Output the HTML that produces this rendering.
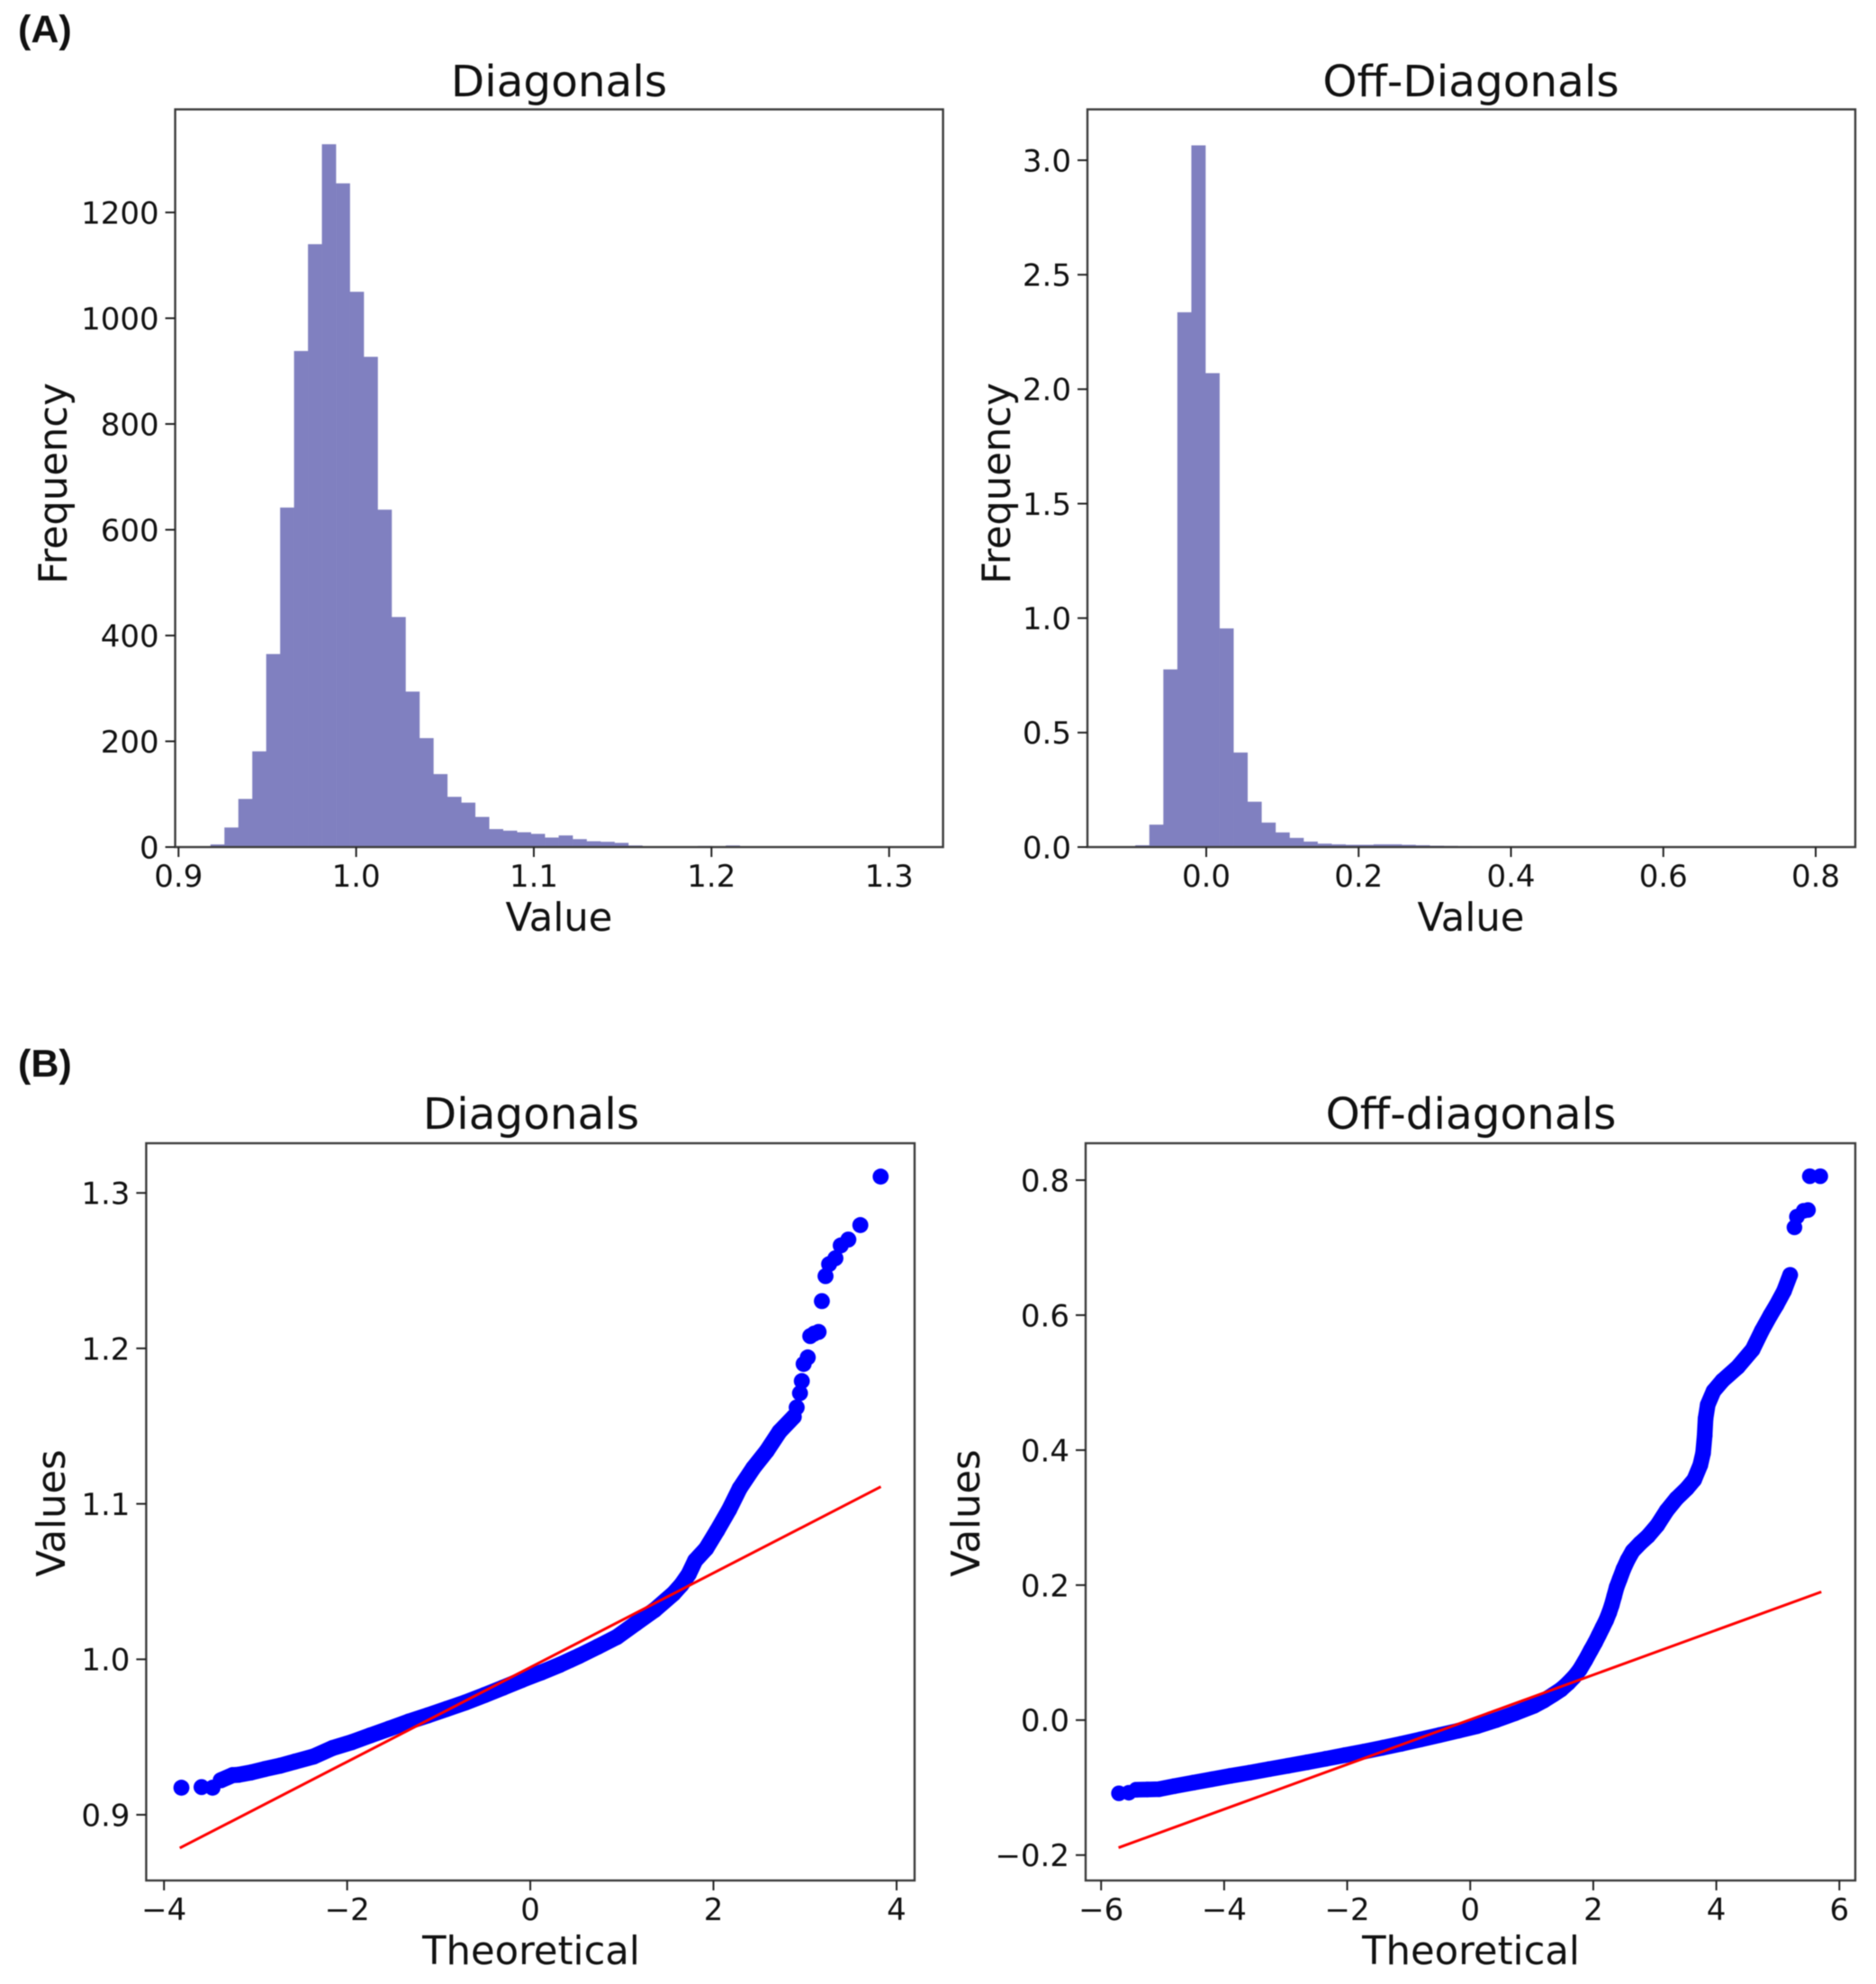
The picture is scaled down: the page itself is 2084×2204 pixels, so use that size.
<!DOCTYPE html>
<html lang="en">
<head>
<meta charset="utf-8">
<title>Diagonal and off-diagonal distributions</title>
<style>
html,body{margin:0;padding:0;background:#fff;width:2084px;height:2204px;overflow:hidden}
svg{display:block;filter:blur(0.6px)}
text{font-family:"DejaVu Sans","Liberation Sans",sans-serif;fill:#111}
.panel-tag{font-family:"Liberation Sans",sans-serif;font-weight:700;font-size:43px}
.title{font-size:48.5px;text-anchor:middle}
.axis-label{font-size:43.3px;text-anchor:middle}
</style>
</head>
<body>
<svg id="figure" xmlns="http://www.w3.org/2000/svg" width="2084" height="2204" viewBox="0 0 2084 2204">
  <rect x="0" y="0" width="2084" height="2204" fill="#fff"/>

  <text class="panel-tag" x="20" y="47">(A)</text>
  <text class="panel-tag" x="20" y="1196">(B)</text>

  <g id="hist-diag"></g>
  <g id="hist-off"></g>
  <g id="qq-diag"></g>
  <g id="qq-off"></g>

  <text class="title" x="621" y="107">Diagonals</text>
  <text class="axis-label" x="621" y="1034">Value</text>
  <text class="axis-label" transform="translate(74 537) rotate(-90)">Frequency</text>

  <text class="title" x="1634" y="107">Off-Diagonals</text>
  <text class="axis-label" x="1634" y="1034">Value</text>
  <text class="axis-label" transform="translate(1122 537) rotate(-90)">Frequency</text>

  <text class="title" x="590" y="1254">Diagonals</text>
  <text class="axis-label" x="590" y="2182">Theoretical</text>
  <text class="axis-label" transform="translate(72 1681) rotate(-90)">Values</text>

  <text class="title" x="1634" y="1254">Off-diagonals</text>
  <text class="axis-label" x="1634" y="2182">Theoretical</text>
  <text class="axis-label" transform="translate(1088 1681) rotate(-90)">Values</text>
</svg>

<script>
// ---------- Histogram data ----------
const diagBinStart = 0.918;
const diagBinWidth = 0.00784;
const diagCounts = [5,37,91,181,365,642,938,1140,1329,1255,1050,927,638,435,294,206,138,95,84,57,34,31,28,25,18,22,15,11,10,8,3,1,1,0,1,2,0,3,0,0,0,0,0,0,1,0,0,0,0,1];
const diagXTicks = [0.9,1.0,1.1,1.2,1.3];
const diagXLabels = ["0.9","1.0","1.1","1.2","1.3"];
const diagYTicks = [0,200,400,600,800,1000,1200];
const diagYLabels = ["0","200","400","600","800","1000","1200"];

const offBinStart = -0.11155;
const offBinWidth = 0.018399;
const offCounts = [0.002,0.008,0.098,0.776,2.336,3.065,2.07,0.955,0.413,0.198,0.107,0.064,0.04,0.024,0.015,0.012,0.01,0.01,0.012,0.012,0.01,0.008,0.006,0.005,0.004,0.002,0.001,0.001,0,0,0,0,0,0,0,0,0,0,0,0,0,0,0,0,0,0,0,0,0,0.001];
const offXTicks = [0,0.2,0.4,0.6,0.8];
const offXLabels = ["0.0","0.2","0.4","0.6","0.8"];
const offYTicks = [0,0.5,1,1.5,2,2.5,3];
const offYLabels = ["0.0","0.5","1.0","1.5","2.0","2.5","3.0"];

// ---------- Q-Q data (diagonals) ----------
const qqDiagBandTheoretical = [-3.38,-3.25,-3.19,-3.05,-2.9,-2.73,-2.57,-2.365,-2.16,-1.95,-1.75,-1.54,-1.33,-1.12,-0.917,-0.71,-0.5,-0.3,-0.09,0.117,0.323,0.53,0.737,0.944,1.15,1.357,1.564,1.65,1.73,1.8,1.92,2.04,2.172,2.287,2.434,2.582,2.722,2.877];
const qqDiagBandValues = [0.9222,0.9255,0.9257,0.9272,0.9294,0.9316,0.9342,0.9375,0.9429,0.9467,0.951,0.9554,0.9599,0.9639,0.968,0.9722,0.977,0.9817,0.9868,0.9915,0.9965,1.0021,1.0081,1.0143,1.023,1.0317,1.0423,1.048,1.0548,1.0635,1.0712,1.0828,1.0963,1.11,1.123,1.134,1.1465,1.156];
const qqDiagTailTheoretical = [-3.81,-3.59,-3.47,2.909,2.945,2.965,2.985,3.03,3.057,3.1,3.148,3.184,3.224,3.263,3.332,3.39,3.473,3.604,3.826];
const qqDiagTailValues = [0.9174,0.9178,0.9174,1.162,1.1712,1.179,1.19,1.1942,1.2079,1.2095,1.2106,1.2304,1.2465,1.2542,1.258,1.2662,1.27,1.2793,1.3105];
const qqDiagFitTheoretical = [-3.828,3.828];
const qqDiagFitValues = [0.8786,1.111];
const qqDiagXTicks = [-4,-2,0,2,4];
const qqDiagXLabels = ["\u22124","\u22122","0","2","4"];
const qqDiagYTicks = [0.9,1.0,1.1,1.2,1.3];
const qqDiagYLabels = ["0.9","1.0","1.1","1.2","1.3"];

// ---------- Q-Q data (off-diagonals) ----------
const qqOffBandTheoretical = [-5.43,-5.25,-5.06,-4.81,-4.5,-4.2,-3.9,-3.58,-3.27,-2.96,-2.65,-2.35,-2.04,-1.73,-1.42,-1.12,-0.81,-0.5,-0.19,0.115,0.42,0.73,1.04,1.2,1.35,1.48,1.59,1.69,1.78,1.87,1.96,2.03,2.09,2.15,2.21,2.26,2.3,2.34,2.38,2.43,2.49,2.56,2.64,2.76,2.89,3.04,3.19,3.35,3.52,3.64,3.74,3.785,3.81,3.825,3.86,3.956,4.1,4.35,4.59,4.74,4.88,4.98,5.1,5.2];
const qqOffBandValues = [-0.1032,-0.1028,-0.1023,-0.0978,-0.0927,-0.0876,-0.0827,-0.0778,-0.0727,-0.0676,-0.0625,-0.0574,-0.052,-0.0467,-0.0409,-0.0351,-0.0287,-0.0222,-0.0156,-0.0089,0,0.0102,0.0213,0.0292,0.0378,0.0457,0.0547,0.0642,0.0747,0.0885,0.1036,0.115,0.1259,0.137,0.1481,0.1595,0.1703,0.1835,0.197,0.209,0.2237,0.2375,0.2504,0.2618,0.2726,0.2886,0.31,0.328,0.343,0.356,0.378,0.3957,0.4212,0.4467,0.4672,0.4876,0.503,0.5233,0.549,0.577,0.6,0.6153,0.6356,0.6596];
const qqOffTailTheoretical = [-5.71,-5.55,5.27,5.31,5.42,5.49,5.52,5.69];
const qqOffTailValues = [-0.1085,-0.1076,0.73,0.7459,0.7546,0.7557,0.8058,0.8058];
const qqOffFitTheoretical = [-5.717,5.707];
const qqOffFitValues = [-0.189,0.19];
const qqOffXTicks = [-6,-4,-2,0,2,4,6];
const qqOffXLabels = ["\u22126","\u22124","\u22122","0","2","4","6"];
const qqOffYTicks = [-0.2,0,0.2,0.4,0.6,0.8];
const qqOffYLabels = ["\u22120.2","0.0","0.2","0.4","0.6","0.8"];

// ---------- Helpers ----------
const SVG_NS = "http://www.w3.org/2000/svg";
function linear(d0, p0, d1, p1) {
  return function (v) { return p0 + (v - d0) * (p1 - p0) / (d1 - d0); };
}
function make(parent, tag, props) {
  const node = document.createElementNS(SVG_NS, tag);
  for (const k in props) node.setAttribute(k, props[k]);
  parent.appendChild(node);
  return node;
}
function drawAxes(g, frame, xTicks, xLabels, xFn, yTicks, yLabels, yFn) {
  const spine = make(g, "rect", {x: frame.l, y: frame.t, width: frame.r - frame.l, height: frame.b - frame.t, fill: "none", stroke: "#3c3c3c", "stroke-width": 2.4});
  
  
  xTicks.forEach(function (v, i) {
    const px = xFn(v);
    const tick = make(g, "line", {x1: px, x2: px, y1: frame.b, y2: frame.b + 11, stroke: "#222", "stroke-width": 2});
    
    
    const label = make(g, "text", {x: px, y: frame.b + 44, "text-anchor": "middle", "font-size": 34});
    
    
    label.textContent = xLabels[i];
  });
  yTicks.forEach(function (v, i) {
    const py = yFn(v);
    const tick = make(g, "line", {x1: frame.l - 11, x2: frame.l, y1: py, y2: py, stroke: "#222", "stroke-width": 2});
    
    
    const label = make(g, "text", {x: frame.l - 18, y: py + 12.4, "text-anchor": "end", "font-size": 34});
    
    
    label.textContent = yLabels[i];
  });
}
function drawHistogram(g, frame, start, width, counts, xFn, yFn) {
  counts.forEach(function (c, i) {
    const x0 = xFn(start + i * width);
    const x1 = xFn(start + (i + 1) * width);
    const y0 = yFn(c);
    const bar = make(g, "rect", {x: x0, y: y0, width: x1 - x0 + 0.3, height: Math.max(0, yFn(0) - y0), fill: "#8080c0"});
    
    
  });
}
function drawQQ(g, bandX, bandY, tailX, tailY, fitX, fitY, xFn, yFn, R) {
  const pts = bandX.map(function (v, i) { return xFn(v) + "," + yFn(bandY[i]); }).join(" ");
  const band = make(g, "polyline", {points: pts, fill: "none", stroke: "#0000ff", "stroke-width": 2 * R, "stroke-linecap": "round", "stroke-linejoin": "round"});
  
  
  bandX.forEach(function (v, i) {
    const dot = make(g, "circle", {cx: xFn(v), cy: yFn(bandY[i]), r: R, fill: "#0000ff"});
    
    
  });
  tailX.forEach(function (v, i) {
    const dot = make(g, "circle", {cx: xFn(v), cy: yFn(tailY[i]), r: R, fill: "#0000ff"});
    
    
  });
  const fit = make(g, "line", {x1: xFn(fitX[0]), y1: yFn(fitY[0]), x2: xFn(fitX[1]), y2: yFn(fitY[1]), stroke: "#ff0000", "stroke-width": 3});
  
  
}

// ---------- Panel A, left ----------
const frameHistDiag = {l: 194.6, r: 1047.6, t: 121.5, b: 941};
const histDiagX = linear(0.9, 198.3, 1.3, 987.7);
const histDiagY = linear(0, 941, 1200, 236);
const gHistDiag = document.getElementById("hist-diag");
drawHistogram(gHistDiag, frameHistDiag, diagBinStart, diagBinWidth, diagCounts, histDiagX, histDiagY);
drawAxes(gHistDiag, frameHistDiag, diagXTicks, diagXLabels, histDiagX, diagYTicks, diagYLabels, histDiagY);

// ---------- Panel A, right ----------
const frameHistOff = {l: 1208, r: 2061, t: 121.5, b: 941};
const histOffX = linear(0, 1340, 0.8, 2017);
const histOffY = linear(0, 941, 3, 178);
const gHistOff = document.getElementById("hist-off");
drawHistogram(gHistOff, frameHistOff, offBinStart, offBinWidth, offCounts, histOffX, histOffY);
drawAxes(gHistOff, frameHistOff, offXTicks, offXLabels, histOffX, offYTicks, offYLabels, histOffY);

// ---------- Panel B, left ----------
const frameQQDiag = {l: 162.4, r: 1016, t: 1270, b: 2089};
const qqDiagX = linear(-4, 182.2, 4, 996);
const qqDiagY = linear(0.9, 2016, 1.3, 1325.2);
const gQQDiag = document.getElementById("qq-diag");
drawQQ(gQQDiag, qqDiagBandTheoretical, qqDiagBandValues, qqDiagTailTheoretical, qqDiagTailValues, qqDiagFitTheoretical, qqDiagFitValues, qqDiagX, qqDiagY, 8.9);
drawAxes(gQQDiag, frameQQDiag, qqDiagXTicks, qqDiagXLabels, qqDiagX, qqDiagYTicks, qqDiagYLabels, qqDiagY);

// ---------- Panel B, right ----------
const frameQQOff = {l: 1206, r: 2061, t: 1270, b: 2089};
const qqOffX = linear(-6, 1223.2, 6, 2043.3);
const qqOffY = linear(-0.2, 2060.8, 0.8, 1311);
const gQQOff = document.getElementById("qq-off");
drawQQ(gQQOff, qqOffBandTheoretical, qqOffBandValues, qqOffTailTheoretical, qqOffTailValues, qqOffFitTheoretical, qqOffFitValues, qqOffX, qqOffY, 8.7);
drawAxes(gQQOff, frameQQOff, qqOffXTicks, qqOffXLabels, qqOffX, qqOffYTicks, qqOffYLabels, qqOffY);
</script>
</body>
</html>
